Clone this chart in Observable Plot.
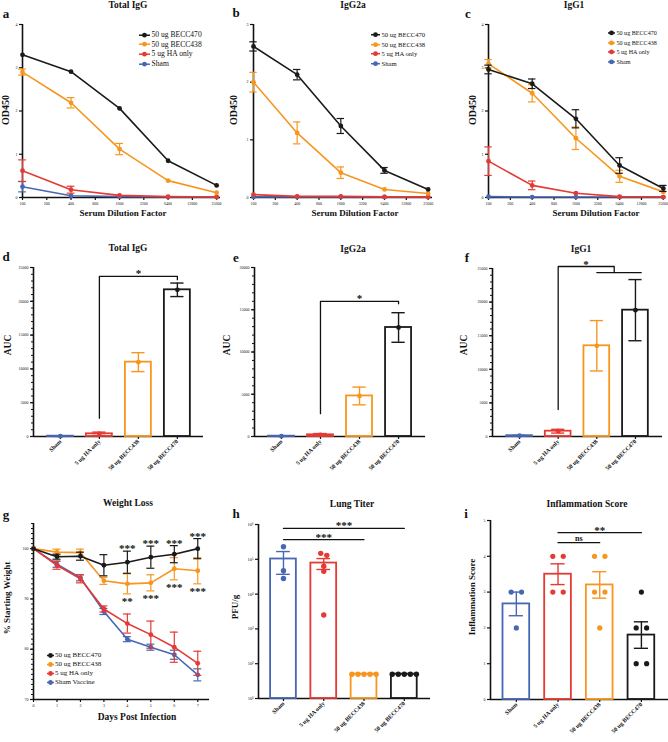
<!DOCTYPE html>
<html><head><meta charset="utf-8">
<script src="https://cdn.jsdelivr.net/npm/d3@7"></script>
<script src="https://cdn.jsdelivr.net/npm/@observablehq/plot@0.6"></script>
<style>
body{margin:0;background:#fff;}
#fig{position:relative;width:668px;height:742px;overflow:hidden;font-family:"Liberation Serif","Times New Roman",serif;color:#111;}
</style></head><body><div id="fig"></div><script>
// ---------- shared ----------
const dilutionTicks = ["100","200","400","800","1600","3200","6400","12800","25600"];
const dilutionsMeasured = ["100","400","1600","6400","25600"];
const lineNames = ["50 ug BECC470","50 ug BECC438","5 ug HA only","Sham"];
const lineNamesG = ["50 ug BECC470","50 ug BECC438","5 ug HA only","Sham Vaccine"];
const lineColors = ["#1a1a1a","#F7961F","#E53A33","#4766B3"];
const barGroups = ["Sham","5 ug HA only","50 ug BECC438","50 ug BECC470"];
const barColors = ["#4766B3","#E53A33","#F7961F","#1a1a1a"];

// ---------- a: Total IgG (OD450) ----------
const a470 = [3.30,2.91,2.06,0.85,0.28], a470Err = [0,0,0,0,0];
const a438 = [2.90,2.19,1.12,0.39,0.11], a438Err = [0.07,0.12,0.13,0,0];
const aHA  = [0.62,0.18,0.05,0.02,0.01], aHAErr  = [0.25,0.08,0,0,0];
const aSham= [0.25,0.04,0.02,0.01,0.01], aShamErr= [0.12,0,0,0,0];
// ---------- b: IgG2a ----------
const b470 = [2.62,2.13,1.24,0.47,0.14], b470Err = [0.08,0.09,0.13,0.05,0];
const b438 = [2.00,1.12,0.43,0.14,0.07], b438Err = [0.17,0.19,0.10,0,0];
const bHA  = [0.05,0.02,0.02,0.01,0.01], bHAErr  = [0,0,0,0,0];
const bSham= [0.01,0.01,0.01,0.01,0.01], bShamErr= [0,0,0,0,0];
// ---------- c: IgG1 ----------
const c470 = [2.96,2.63,1.82,0.74,0.21], c470Err = [0.10,0.11,0.21,0.18,0.07];
const c438 = [3.09,2.41,1.37,0.49,0.13], c438Err = [0.10,0.20,0.26,0.14,0];
const cHA  = [0.84,0.28,0.10,0.02,0.01], cHAErr  = [0.33,0.10,0,0,0];
const cSham= [0.02,0.01,0.01,0.01,0.01], cShamErr= [0,0,0,0,0];
// ---------- d/e/f: AUC ----------
const dMean = [50,400,11000,21700],  dSem = [40,250,1400,1000];
const eMean = [40,200,4800,12900],   eSem = [30,150,1050,1750];
const fMean = [120,790,13500,18800], fSem = [60,280,3750,4550];
// ---------- g: weight loss ----------
const days = [0,1,2,3,4,5,6,7];
const g470 = [100,98.4,98.5,96.7,97.3,98.3,98.9,100.0], g470Err = [0,0.5,0.8,2.1,2.2,2.2,1.7,2.0];
const g438 = [100,99.3,99.2,93.6,93.0,93.2,96.0,95.6],  g438Err = [0,0.6,0.7,0.7,2.0,1.6,2.2,2.6];
const gHA  = [100,96.7,94.0,88.0,85.1,82.9,80.4,77.2],  gHAErr  = [0,0.8,0.8,0.6,1.9,2.7,3.0,2.4];
const gSham= [100,96.9,94.2,87.5,82.0,80.4,78.9,74.9],  gShamErr= [0,0.6,0.6,0.6,0.5,0.6,0.9,1.2];
const gStarDaysAbove = [4,5,6,7], gStarAbove = ["***","***","***","***"];
const gStarDaysBelow = [4,5,6,7], gStarBelow = ["**","***","***","***"];
// ---------- h: lung titer ----------
const hPoints = [[230000,47000,28000],[148000,130000,63000,45000,2500],[50,50,50,50,50],[50,50,50,50,50]];
const hMean = [102000,78000,50,50], hSem = [65000,27000,0,0];
// ---------- i: inflammation ----------
const iPoints = [[3,3,2],[4,4,3,3],[4,4,3,3,2],[3,2,2,1,1]];
const iMean = [2.67,3.5,3.2,1.8], iSem = [0.33,0.29,0.37,0.37];

// ---------- helpers ----------
const FONT = '"Liberation Serif","Times New Roman",serif';
const fig = document.getElementById("fig");
const baseStyle = {fontFamily: FONT, color: "#111", background: "transparent", overflow: "visible"};

function addText(s, x, y, size, o = {}) {
  const d = document.createElement("div");
  d.textContent = s;
  Object.assign(d.style, {position:"absolute", left:x+"px", top:y+"px", fontSize:size+"px",
    fontWeight:o.weight||"bold", whiteSpace:"nowrap", lineHeight:"1",
    transform:`translate(-50%,-50%)${o.rotate ? ` rotate(${o.rotate}deg)` : ""}`});
  fig.appendChild(d);
}
function addLegend(names, cols, left, top, pitch, size, symW, gap) {
  names.forEach((n, k) => {
    const row = document.createElement("div");
    Object.assign(row.style, {position:"absolute", left:left+"px", top:(top + k*pitch)+"px",
      transform:"translateY(-50%)", display:"flex", alignItems:"center", fontSize:size+"px",
      lineHeight:"1", whiteSpace:"nowrap"});
    row.innerHTML = `<svg width="${symW}" height="6" style="margin-right:${gap}px;overflow:visible"><line x1="0" x2="${symW}" y1="3" y2="3" stroke="${cols[k]}" stroke-width="1.5"/><circle cx="${symW/2}" cy="3" r="2.4" fill="${cols[k]}"/></svg><span>${n}</span>`;
    fig.appendChild(row);
  });
}
function mount(svg, left, top) {
  Object.assign(svg.style, {position:"absolute", left:left+"px", top:top+"px", overflow:"visible", background:"transparent"});
  fig.appendChild(svg);
}

function linePanel(o) {
  const marks = [];
  o.series.forEach(s => {
    const rows = s.vals.map((v, k) => ({x: o.xs[k], y: v, e: s.err[k]}));
    const er = rows.filter(d => d.e > 0);
    marks.push(
      Plot.ruleX(er, {x:"x", y1:d=>d.y-d.e, y2:d=>d.y+d.e, stroke:s.color, strokeWidth:1.2}),
      Plot.ruleY(er, {y:d=>d.y+d.e, x1:d=>d.x-o.cap, x2:d=>d.x+o.cap, stroke:s.color, strokeWidth:1.2}),
      Plot.ruleY(er, {y:d=>d.y-d.e, x1:d=>d.x-o.cap, x2:d=>d.x+o.cap, stroke:s.color, strokeWidth:1.2}),
      Plot.line(rows, {x:"x", y:"y", stroke:s.color, strokeWidth:1.6}),
      Plot.dot(rows, {x:"x", y:"y", r:2.4, fill:s.color, stroke:"none"})
    );
  });
  const axes = [];
  if (o.minor) axes.push(Plot.axisY({ticks:o.minor, tickSize:2, tickFormat:()=>"", label:null, strokeWidth:1}));
  axes.push(
    Plot.axisY({ticks:o.yticks, tickSize:3, tickPadding:2, fontSize:4, label:null, tickFormat:d=>String(d), strokeWidth:1.2}),
    Plot.axisX({ticks:o.xticks, tickSize:3, tickPadding:1.5, fontSize:4, label:null, tickFormat:o.xfmt, strokeWidth:1.2}),
    Plot.ruleX([o.xdom[0]], {strokeWidth:1.6}),
    Plot.ruleY([o.ydom[0]], {strokeWidth:1.6})
  );
  const svg = Plot.plot({width:o.width, height:o.height, marginLeft:o.ml, marginRight:o.mr,
    marginTop:o.mt, marginBottom:o.mb, x:{domain:o.xdom}, y:{domain:o.ydom},
    style: baseStyle, marks:[...axes, ...marks, ...(o.extra||[])]});
  mount(svg, o.left, o.top);
}

function spread(vals, close, step) {
  const idx = vals.map((v, k) => k).sort((a, b) => vals[b] - vals[a]);
  const out = new Array(vals.length).fill(0);
  let cl = [];
  const flush = () => { cl.forEach((k, j) => out[k] = (j - (cl.length - 1) / 2) * step); cl = []; };
  idx.forEach(k => { if (cl.length && !close(vals[cl[cl.length-1]], vals[k])) flush(); cl.push(k); });
  flush();
  return out;
}

function barPanel(o) {
  const rows = barGroups.map((g, i) => ({i, m:o.mean[i], s:o.sem[i], c:barColors[i]}));
  const marks = [];
  marks.push(Plot.rect(rows, {x1:d=>d.i-o.hw, x2:d=>d.i+o.hw, y1:()=>o.base, y2:"m", stroke:"c", fill:"none", strokeWidth:1.8}));
  if (o.points) {
    const pts = [];
    o.points.forEach((vals, i) => {
      const off = spread(vals, o.close, o.step);
      vals.forEach((v, k) => pts.push({x: i + off[k], v, c: barColors[i]}));
    });
    marks.push(Plot.dot(pts, {x:"x", y:"v", r:o.r, fill:"c", stroke:"none"}));
  }
  const er = rows.filter(d => d.s > 0);
  marks.push(
    Plot.ruleX(er, {x:"i", y1:d=>d.m-d.s, y2:d=>d.m+d.s, stroke:"c", strokeWidth:1.4}),
    Plot.ruleY(er, {y:d=>d.m+d.s, x1:d=>d.i-o.cap, x2:d=>d.i+o.cap, stroke:"c", strokeWidth:1.4}),
    Plot.ruleY(er, {y:d=>d.m-d.s, x1:d=>d.i-o.cap, x2:d=>d.i+o.cap, stroke:"c", strokeWidth:1.4})
  );
  if (o.meanDot) marks.push(Plot.dot(rows, {x:"i", y:"m", r:2.4, fill:"c", stroke:"none"}));
  const axes = [];
  if (o.minor) axes.push(Plot.axisY({ticks:o.minor, tickSize:2, tickFormat:()=>"", label:null, strokeWidth:1}));
  axes.push(
    Plot.axisY({ticks:o.yticks, tickSize:3, tickPadding:2, fontSize:o.yfont||4, label:null, tickFormat:o.yfmt||(d=>String(d)), strokeWidth:1.2}),
    Plot.axisX({ticks:[0,1,2,3], tickSize:3, tickPadding:1, fontSize:6, fontWeight:"bold", tickRotate:-45, label:null, tickFormat:i=>barGroups[i], strokeWidth:1.2}),
    Plot.ruleX([o.xdom[0]], {strokeWidth:1.6}),
    Plot.ruleY([o.base], {strokeWidth:1.6})
  );
  const svg = Plot.plot({width:o.width, height:o.height, marginLeft:o.ml, marginRight:o.mr,
    marginTop:o.mt, marginBottom:o.mb, x:{domain:o.xdom},
    y: o.log ? {type:"log", domain:o.ydom} : {domain:o.ydom},
    color:{type:"identity"}, style: baseStyle,
    marks:[...axes, ...marks, ...(o.extra||[])]});
  mount(svg, o.left, o.top);
}

function bracket(pointsArr) {
  return Plot.line(pointsArr.map(([x, y]) => ({x, y})), {x:"x", y:"y", stroke:"#111", strokeWidth:1.3});
}
function sigText(x, y, t, size, dy) {
  return Plot.text([{x, y, t}], {x:"x", y:"y", text:"t", fontSize:size, fontWeight:"bold", fill:"#111", lineAnchor:"middle", dy, fontFamily:FONT});
}

// ---------- a, b, c ----------
const xsDil = dilutionsMeasured.map(d => dilutionTicks.indexOf(d));
const dilFmt = i => dilutionTicks[i];
function mkSeries(vals, errs) { return [3,2,1,0].map(k => ({vals:vals[k], err:errs[k], color:lineColors[k]})); }

linePanel({left:0, top:0, width:222, height:225, ml:22, mr:2, mt:24, mb:28, xdom:[0,8.16], ydom:[0,4],
  yticks:[0,1,2,3,4], xticks:d3.range(9), xfmt:dilFmt, xs:xsDil, cap:0.16,
  series: mkSeries([a470,a438,aHA,aSham],[a470Err,a438Err,aHAErr,aShamErr])});
linePanel({left:222, top:0, width:222, height:225, ml:31, mr:12, mt:24, mb:28, xdom:[0,8.2], ydom:[0,3],
  yticks:[0,1,2,3], xticks:d3.range(9), xfmt:dilFmt, xs:xsDil, cap:0.17,
  series: mkSeries([b470,b438,bHA,bSham],[b470Err,b438Err,bHAErr,bShamErr])});
linePanel({left:444, top:0, width:224, height:225, ml:44, mr:3, mt:24, mb:28, xdom:[0,8.1], ydom:[0,4],
  yticks:[0,1,2,3,4], xticks:d3.range(9), xfmt:dilFmt, xs:xsDil, cap:0.17,
  series: mkSeries([c470,c438,cHA,cSham],[c470Err,c438Err,cHAErr,cShamErr])});

// ---------- d, e, f ----------
barPanel({left:0, top:225, width:222, height:255, ml:33, mr:19, mt:42, mb:44, xdom:[-0.69,3.67], ydom:[0,25000], base:0,
  yticks:d3.range(0,25001,5000), minor:d3.range(0,25001,1000), mean:dMean, sem:dSem, hw:0.333, cap:0.17, meanDot:true,
  extra:[bracket([[1,2700],[1,23700],[3,23700],[3,23200]]), sigText(2,23700,"*",11,-2.5)]});
barPanel({left:222, top:225, width:222, height:255, ml:32, mr:19, mt:42, mb:44, xdom:[-0.69,3.69], ydom:[0,20000], base:0,
  yticks:d3.range(0,20001,5000), minor:d3.range(0,20001,1000), mean:eMean, sem:eSem, hw:0.333, cap:0.17, meanDot:true,
  extra:[bracket([[1,2700],[1,16000],[3,16000],[3,15700]]), sigText(2,16000,"*",11,-2.5)]});
barPanel({left:444, top:225, width:224, height:255, ml:48, mr:6, mt:43, mb:44, xdom:[-0.70,3.70], ydom:[0,25000], base:0,
  yticks:d3.range(0,25001,5000), minor:d3.range(0,25001,1000), mean:fMean, sem:fSem, hw:0.333, cap:0.17, meanDot:true,
  extra:[bracket([[1,4000],[1,25300],[2.45,25300],[2.45,24400]]), bracket([[2,24400],[3.15,24400]]), sigText(1.72,25300,"*",11,-2.5)]});

// ---------- g ----------
const gSeries = [[gSham,gShamErr,3],[gHA,gHAErr,2],[g438,g438Err,1],[g470,g470Err,0]].map(([v,e,k]) => ({vals:v, err:e, color:lineColors[k]}));
linePanel({left:0, top:480, width:222, height:262, ml:33, mr:13, mt:43, mb:43, xdom:[0,7.5], ydom:[70,105],
  yticks:[70,80,90,100], minor:d3.range(70,106,1), xticks:days, xfmt:d=>String(d), xs:days, cap:0.17,
  series:gSeries,
  extra:[
    Plot.text(gStarDaysAbove.map((d,k)=>({x:d, y:g470[d]+g470Err[d], t:gStarAbove[k]})), {x:"x", y:"y", text:"t", dy:-2.5, fontSize:11, fontWeight:"bold", lineAnchor:"middle", fill:"#111", fontFamily:FONT}),
    Plot.text(gStarDaysBelow.map((d,k)=>({x:d, y:g438[d]-g438Err[d], t:gStarBelow[k]})), {x:"x", y:"y", text:"t", dy:7.8, fontSize:11, fontWeight:"bold", lineAnchor:"middle", fill:"#111", fontFamily:FONT})
  ]});

// ---------- h ----------
const supDigits = {"1":"\u00b9","2":"\u00b2","3":"\u00b3","4":"\u2074","5":"\u2075","6":"\u2076"};
barPanel({left:222, top:480, width:222, height:262, ml:36, mr:14, mt:44, mb:44, xdom:[-0.62,3.65], ydom:[10,1e6], log:true, base:10,
  yticks:[10,100,1e3,1e4,1e5,1e6], yfmt:d=>"10"+supDigits[String(Math.round(Math.log10(d)))], yfont:4.5,
  mean:hMean, sem:hSem, hw:0.32, cap:0.17, points:hPoints, r:2.7, step:0.15,
  close:(a,b)=>Math.abs(Math.log10(a)-Math.log10(b))<0.1,
  extra:[bracket([[0,7.7e5],[3,7.7e5]]), bracket([[0,3.7e5],[2,3.7e5]]), sigText(1.5,7.7e5,"***",11,-2.5), sigText(1,3.7e5,"***",11,-2.5)]});

// ---------- i ----------
barPanel({left:444, top:480, width:224, height:262, ml:46, mr:0, mt:40, mb:43, xdom:[-0.62,3.65], ydom:[0,5], base:0,
  yticks:[0,1,2,3,4,5], mean:iMean, sem:iSem, hw:0.32, cap:0.17, points:iPoints, r:2.6, step:0.25,
  close:(a,b)=>a===b,
  extra:[bracket([[1,4.66],[3,4.66]]), bracket([[1,4.38],[2,4.38]]), sigText(2,4.66,"**",11,-2.5),
    Plot.text([{x:1.5, y:4.38, t:"ns"}], {x:"x", y:"y", text:"t", fontSize:8, fontWeight:"bold", fill:"#111", lineAnchor:"middle", dy:-4.2, fontFamily:FONT})]});

// ---------- titles, labels, legends ----------
const titles = [["Total IgG",128,6],["IgG2a",353,6],["IgG1",574,6],["Total IgG",128,249],["IgG2a",353,250],["IgG1",581,250],["Weight Loss",128,504],["Lung Titer",352,505],["Inflammation Score",587,505]];
titles.forEach(([t,x,y]) => addText(t, x, y, 9.5));
const letters = [["a",6,13],["b",236,12],["c",468,13],["d",6,256],["e",236,257],["f",467,257],["g",6,514],["h",236,513],["i",466,513]];
letters.forEach(([t,x,y]) => addText(t, x, y, 13));
[["OD450",6,110],["OD450",234,110],["OD450",473,110]].forEach(([t,x,y]) => addText(t,x,y,10,{rotate:-90}));
[["AUC",9,345],["AUC",228,345],["AUC",465,345]].forEach(([t,x,y]) => addText(t,x,y,9.5,{rotate:-90}));
addText("% Starting Weight", 7, 598, 9, {rotate:-90});
addText("PFU/g", 235, 607, 9, {rotate:-90});
addText("Inflammation Score", 472, 597, 9, {rotate:-90});
[["Serum Dilution Factor",123,213],["Serum Dilution Factor",355,213],["Serum Dilution Factor",596,213]].forEach(([t,x,y]) => addText(t,x,y,9));
addText("Days Post Infection", 137, 718, 9.5);

addLegend(lineNames, lineColors, 139, 35, 9.6, 7.6, 11, 1.5);
addLegend(lineNames, lineColors, 371, 35, 9.6, 6.6, 9, 1.5);
addLegend(lineNames, lineColors, 608, 33, 9.7, 6.1, 7, 1.5);
addLegend(lineNamesG, lineColors, 47, 655, 9, 7, 7, 1);
</script></body></html>
